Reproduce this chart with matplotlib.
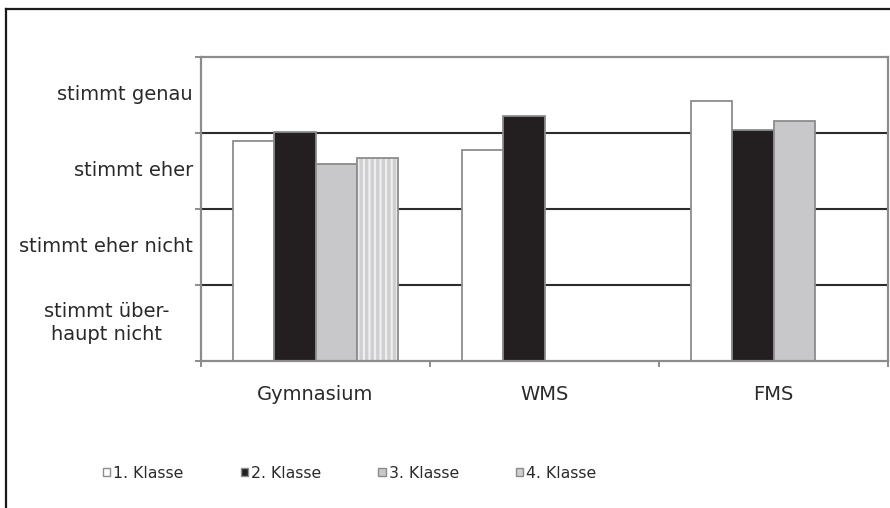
import numpy as np
import matplotlib
matplotlib.use("Agg")
import matplotlib.pyplot as plt
from matplotlib.lines import Line2D
from matplotlib.patches import Patch

schools = ["Gymnasium", "WMS", "FMS"]
classes = ["1. Klasse", "2. Klasse", "3. Klasse", "4. Klasse"]
klasse1 = [2.89, 2.78, 3.42]
klasse2 = [3.01, 3.23, 3.04]
klasse3 = [2.59, np.nan, 3.16]
klasse4 = [2.67, np.nan, np.nan]
scale_labels = ["stimmt über-\nhaupt nicht", "stimmt eher nicht", "stimmt eher", "stimmt genau"]


def main():
    plt.rcParams["font.family"] = "DejaVu Sans"
    plt.rcParams["hatch.linewidth"] = 1.6

    text_col = "#2a2a2a"
    edge = "#8c8c8c"
    faces = ["#ffffff", "#231f20", "#c8c8ca", "#cfcfd1"]

    fig = plt.figure(figsize=(8.9, 5.08), dpi=100)
    ax = fig.add_axes([201 / 890, 1 - 361 / 508, 687 / 890, 304 / 508])

    x = np.arange(len(schools))
    w = 0.181
    series = [klasse1, klasse2, klasse3, klasse4]
    for i, vals in enumerate(series):
        pos = x + (i - 1.5) * w
        if i == 3:
            # striped bar: hatch first, outline on top
            ax.bar(pos, vals, w, color=faces[i], edgecolor="#eeeeee", hatch="|||",
                   linewidth=0, zorder=2)
            ax.bar(pos, vals, w, color="none", edgecolor=edge, linewidth=1.3, zorder=3)
        else:
            ax.bar(pos, vals, w, color=faces[i], edgecolor=edge, linewidth=1.3, zorder=2)

    for yv in [1, 2, 3]:
        ax.axhline(yv, color="#2b2b2b", linewidth=1.5, zorder=1)

    ax.set_xlim(-0.5, 2.5)
    ax.set_ylim(0, 4)
    for s in ax.spines.values():
        s.set_color(edge)
        s.set_linewidth(1.6)

    ax.set_yticks([0, 1, 2, 3, 4])
    ax.set_yticklabels([])
    ax.tick_params(axis="y", which="major", length=4.5, width=1.4, color=edge, direction="out")

    ax.set_xticks([-0.5, 0.5, 1.5, 2.5])
    ax.set_xticklabels([])
    ax.tick_params(axis="x", which="major", length=4.5, width=1.4, color=edge, direction="out")
    ax.set_xticks(x, minor=True)
    ax.set_xticklabels(schools, minor=True, fontsize=14, color=text_col)
    ax.tick_params(axis="x", which="minor", length=0, pad=17)

    trans = ax.get_yaxis_transform()
    for k, lab in enumerate(scale_labels):
        if "\n" in lab:
            ax.text(-0.137, k + 0.5, lab, transform=trans, ha="center", va="center",
                    fontsize=14, color=text_col, linespacing=1.3, multialignment="center")
        else:
            ax.text(-0.0117, k + 0.5, lab, transform=trans, ha="right", va="center",
                    fontsize=14, color=text_col)

    handles = [Patch(facecolor=f, edgecolor=edge, linewidth=1.0) for f in faces]
    fig.legend(handles, classes, loc="center left", bbox_to_anchor=(95 / 890, 1 - 473 / 508),
               ncol=4, frameon=False, fontsize=11.3, handlelength=0.45, handleheight=0.45,
               handletextpad=0.2, columnspacing=3.65, labelcolor=text_col, borderpad=0)

    fig.add_artist(Line2D([6 / 890, 1.0], [1 - 9 / 508, 1 - 9 / 508], color="#1a1a1a",
                          linewidth=1.6, transform=fig.transFigure))
    fig.add_artist(Line2D([6 / 890, 6 / 890], [1 - 9 / 508, 0.0], color="#1a1a1a",
                          linewidth=1.6, transform=fig.transFigure))

    fig.savefig("out.png", dpi=100)
    plt.close(fig)


if __name__ == "__main__":
    main()
